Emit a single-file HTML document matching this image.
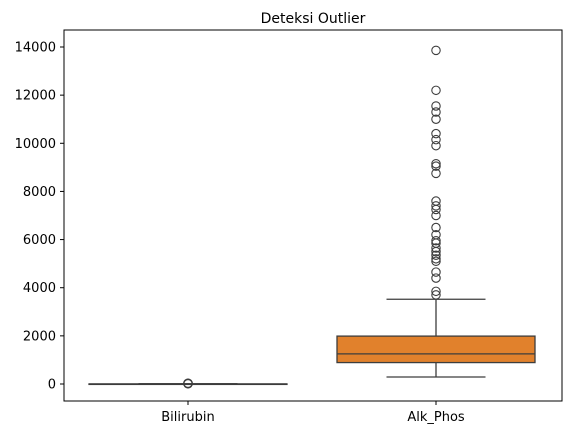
<!DOCTYPE html>
<html><head><meta charset="utf-8"><style>
body{margin:0;background:#fff;}
svg text{font-family:"DejaVu Sans","Liberation Sans",sans-serif;font-size:13px;fill:#000;}
</style></head><body>
<svg id="svg" width="569" height="435">
<rect x="0" y="0" width="569" height="435" fill="#fff"/>
<text x="313" y="23" text-anchor="middle" style="font-size:14px">Deteksi Outlier</text>
<g id="plot"></g>
<rect x="64" y="30" width="498" height="371" fill="none" stroke="#000" stroke-width="1"/>
</svg>
<script>
const categories = ["Bilirubin","Alk_Phos"];
const q1 = [0.8, 890];
const median = [1.4, 1250];
const q3 = [3.4, 1990];
const whiskLo = [0.3, 290];
const whiskHi = [7.1, 3520];
const outliersBili = [10, 15, 20, 25, 30];
const outliersAlk = [13860,12200,11550,11300,11000,10400,10150,9900,9150,9050,8750,7600,7400,7250,7000,6500,6200,5950,5850,5650,5500,5350,5200,5100,4650,4400,3850,3700];
const yTicks = [0,2000,4000,6000,8000,10000,12000,14000];
const fills = ["#3a78b0","#e1812c"];

const NS="http://www.w3.org/2000/svg";
const plot=document.getElementById('plot');
const y=v=>384-v*(384-47)/14000;
const xc=i=>188+i*248;
const bw=198;
function mk(tag,attrs){const e=document.createElementNS(NS,tag);for(const k in attrs)e.setAttribute(k,attrs[k]);plot.appendChild(e);return e;}
yTicks.forEach(t=>{
  const l=mk('line',{x1:60,x2:64,y1:y(t),y2:y(t),stroke:'#000'});
  
  
  const tx=mk('text',{x:56,y:y(t)+4.5,'text-anchor':'end'});
  tx.textContent=t;
  
  
});
const outs=[outliersBili,outliersAlk];
categories.forEach((c,i)=>{
  const x=xc(i), g='#3d3d3d';
  const w1=mk('line',{x1:x,x2:x,y1:y(whiskLo[i]),y2:y(q1[i]),stroke:g,'stroke-width':1.3});
  
  
  const w2=mk('line',{x1:x,x2:x,y1:y(q3[i]),y2:y(whiskHi[i]),stroke:g,'stroke-width':1.3});
  
  
  [whiskLo[i],whiskHi[i]].forEach(v=>{
    const cap=mk('line',{x1:x-bw/4,x2:x+bw/4,y1:y(v),y2:y(v),stroke:g,'stroke-width':1.3});
    
    
  });
  const b=mk('rect',{x:x-bw/2,y:y(q3[i]),width:bw,height:Math.max(0.5,y(q1[i])-y(q3[i])),fill:fills[i],stroke:g,'stroke-width':1.3});
  
  
  const m=mk('line',{x1:x-bw/2,x2:x+bw/2,y1:y(median[i]),y2:y(median[i]),stroke:g,'stroke-width':1.3});
  
  
  outs[i].forEach(v=>{
    const o=mk('circle',{cx:x,cy:y(v),r:4.2,fill:'none',stroke:g,'stroke-width':1.1});
    
    
  });
  const t=mk('line',{x1:x,x2:x,y1:401,y2:405,stroke:'#000'});
  
  
  const tl=mk('text',{x:x,y:421,'text-anchor':'middle'});
  tl.textContent=c;
  
  
});
</script>
</body></html>
